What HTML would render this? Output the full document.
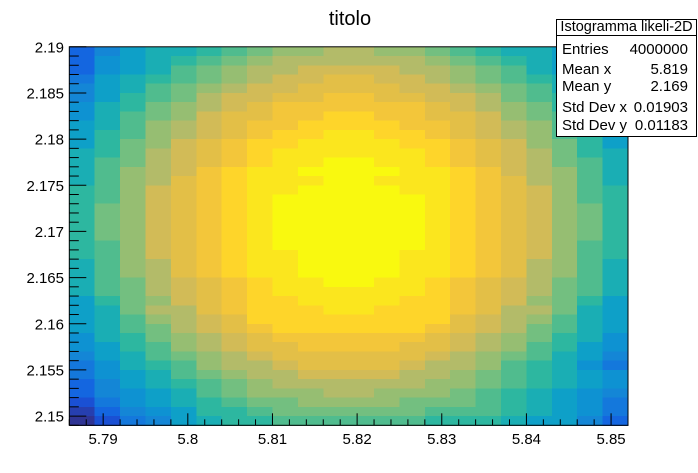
<!DOCTYPE html>
<html><head><meta charset="utf-8"><style>
html,body{margin:0;padding:0;background:#fff;}
svg{display:block;font-family:"Liberation Sans",Arial,sans-serif;}
</style></head><body>
<svg id="chart" width="698" height="473" viewBox="0 0 698 473" xmlns="http://www.w3.org/2000/svg">
<rect x="0" y="0" width="698" height="473" fill="#fff"/>
<text x="350" y="25" font-size="20" text-anchor="middle" fill="#000">titolo</text>
<g id="cells" shape-rendering="crispEdges"></g>
<g id="axes"></g>
<g>
<rect x="556.5" y="19.5" width="140" height="117" fill="#fff" stroke="#000" stroke-width="1"/>
<line x1="556.5" y1="35.5" x2="696.5" y2="35.5" stroke="#000" stroke-width="1"/>
<text x="626.5" y="31" font-size="14.5" text-anchor="middle">Istogramma likeli-2D</text>
<g font-size="15"><text x="562" y="54">Entries</text><text x="688" y="54" text-anchor="end">4000000</text></g>
<g font-size="15"><text x="562" y="74">Mean x</text><text x="688" y="74" text-anchor="end">5.819</text></g>
<g font-size="15"><text x="562" y="91">Mean y</text><text x="688" y="91" text-anchor="end">2.169</text></g>
<g font-size="15"><text x="562" y="112">Std Dev x</text><text x="688" y="112" text-anchor="end">0.01903</text></g>
<g font-size="15"><text x="562" y="130">Std Dev y</text><text x="688" y="130" text-anchor="end">0.01183</text></g>
</g>
</svg>
<script>
// Data: per-row contour level (0 = max, 19 = min), top row first; chars 0-9,a-j
const levelRows = [
"gecbba9877667789abbceg",
"gdcba987666666789abcdg",
"gdcb98766555566789bcdg",
"fcba98765544556789abcf",
"ecb9876554444556789bce",
"eca9865544334455689ace",
"dba8765433333345678abd",
"db987544332233445789bd",
"cb976543322223345679bc",
"ca976543221122345679ac",
"ca875432211112234578ac",
"ba865432111111234568ab",
"b98654321100112345689b",
"b97653211000011235679b",
"b97643211100111234679b",
"a97543211000011234579a",
"a97543210000001234579a",
"a87543210000001234578a",
"a87543210000001234578a",
"a87543210000001234578a",
"a87543210000001234578a",
"a97543210000001234579a",
"a97543211000011234579a",
"b97643211000011234679b",
"b97643211000011234679b",
"b98654321100112345689b",
"b98654321111112345689b",
"ca875432211112234578ac",
"cb866432221122234668bc",
"cb976542222222245679bc",
"cb986543222222345689bc",
"dba8765433333345678abd",
"dca9765443333445679acd",
"ecb9876544444456789bce",
"fdba97665444456679abdf",
"fdcb98766555566789abcd",
"gecba9876666667789abcd",
"gedcb987776677789abcde",
"hfdcba98877778889abcdf",
"igedcaa9888888999abcdf",
"jhfecbaa999999aaabcceg"
];
const levelColors = ["#f9f90f","#fbe61e","#fed52a","#f3c63a","#e3bf47","#d2bb57","#b3bb69","#96be72","#73bf80","#50bc8e","#2db7a0","#1aaeb4","#0ea0c8","#0e92d2","#1486d6","#1478dc","#1466e0","#1a50d4","#263fb0","#2f3494"];
const xRange = [5.786, 5.852];
const yRange = [2.149, 2.19];
const xBinWidth = 0.003;
const yBinWidth = 0.001;
const xTickLabels = ["5.79","5.8","5.81","5.82","5.83","5.84","5.85"];
const yTickLabels = ["2.15","2.155","2.16","2.165","2.17","2.175","2.18","2.185","2.19"];

const PL=69.3, PR=628, PT=46.8, PB=425.3;
function sx(v){return PL+(v-xRange[0])/(xRange[1]-xRange[0])*(PR-PL);}
function sy(v){return PB-(v-yRange[0])/(yRange[1]-yRange[0])*(PB-PT);}
const NS="http://www.w3.org/2000/svg";
const cells=document.getElementById('cells');
levelRows.forEach((row,r)=>{
  const yHi=yRange[1]-r*yBinWidth, yLo=yHi-yBinWidth;
  for(let c=0;c<row.length;c++){
    const lv=parseInt(row[c],20);
    const xLo=xRange[0]+c*xBinWidth, xHi=xLo+xBinWidth;
    const rect=document.createElementNS(NS,'rect');
    
    
    rect.setAttribute('x',sx(xLo));
    rect.setAttribute('y',sy(yHi));
    rect.setAttribute('width',sx(xHi)-sx(xLo)+0.6);
    rect.setAttribute('height',sy(yLo)-sy(yHi)+0.6);
    rect.setAttribute('fill',levelColors[lv]);
    cells.appendChild(rect);
  }
});
const axes=document.getElementById('axes');
function line(x1,y1,x2,y2,name){
  const l=document.createElementNS(NS,'line');
  
  
  l.setAttribute('x1',x1);l.setAttribute('y1',y1);l.setAttribute('x2',x2);l.setAttribute('y2',y2);
  l.setAttribute('stroke','#000');l.setAttribute('stroke-width','1');
  axes.appendChild(l);
}
function text(x,y,s,anchor,name){
  const t=document.createElementNS(NS,'text');
  
  
  t.setAttribute('x',x);t.setAttribute('y',y);t.setAttribute('font-size','15');
  t.setAttribute('text-anchor',anchor);t.textContent=s;
  axes.appendChild(t);
}
const fr=document.createElementNS(NS,'rect');


fr.setAttribute('x',PL);fr.setAttribute('y',PT);fr.setAttribute('width',PR-PL);fr.setAttribute('height',PB-PT);
fr.setAttribute('fill','none');fr.setAttribute('stroke','#000');fr.setAttribute('stroke-width','1');
axes.appendChild(fr);
for(let k=-2;k<=33;k++){
  const v=5.79+k*0.002; if(v<xRange[0]-1e-9||v>xRange[1]+1e-9) continue;
  const major=(k%5===0);
  line(sx(v),PB,sx(v),PB-(major?12:6),major?'x-major-tick':'x-minor-tick');
}
xTickLabels.forEach(s=>text(sx(parseFloat(s)),444,s,'middle','x-tick-label'));
for(let k=-1;k<=41;k++){
  const v=2.15+k*0.001; if(v<yRange[0]-1e-9||v>yRange[1]+1e-9) continue;
  const major=(k%5===0);
  line(PL,sy(v),PL+(major?17:9.5),sy(v),major?'y-major-tick':'y-minor-tick');
}
yTickLabels.forEach(s=>text(64,sy(parseFloat(s))+5.5,s,'end','y-tick-label'));
</script>
</body></html>
